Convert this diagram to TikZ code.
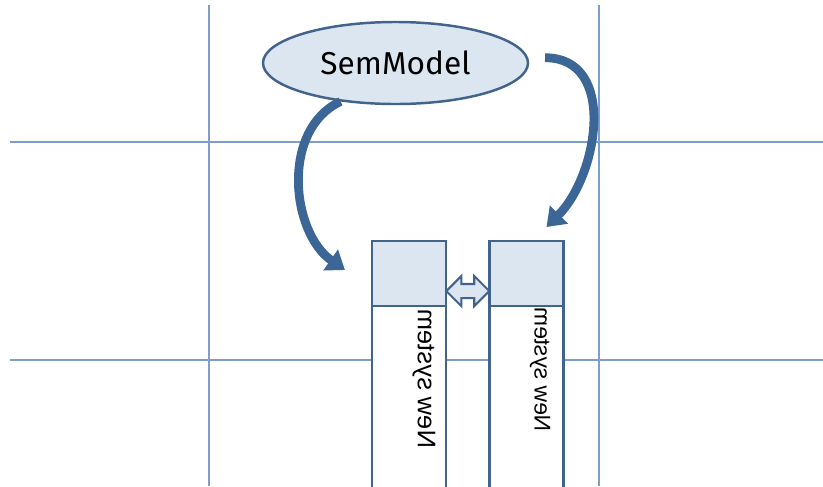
\documentclass[tikz,border=0pt]{standalone}
\usepackage{fontspec}
\setmainfont{Liberation Sans}
\newfontfamily\modelfont{Fira Sans}
\usetikzlibrary{positioning,calc,shapes.geometric,shapes.arrows,arrows.meta}
\definecolor{gridblue}{RGB}{125,158,205}
\definecolor{edgeblue}{RGB}{66,100,140}
\definecolor{paleblue}{RGB}{220,230,241}
\definecolor{bendblue}{RGB}{60,102,150}
\tikzset{header/.style = {draw=edgeblue, fill=paleblue, line width=1.5pt, rectangle, minimum height=1.3cm, minimum width=1.48cm, outer sep=0pt},
         column/.style = {draw=edgeblue, fill=white, line width=1.5pt, rectangle, minimum height=3.8cm, minimum width=1.48cm, outer sep=0pt},
         model/.style = {draw=edgeblue, fill=paleblue, line width=1.4pt, ellipse, minimum width=5.3cm, minimum height=1.64cm, inner sep=0pt},
         link/.style = {draw=edgeblue, fill=paleblue, line width=1.2pt, double arrow, inner xsep=0pt, inner ysep=0.12cm, minimum height=0.86cm, double arrow head extend=0.16cm},
         bendarrow/.style = {draw=bendblue, line width=5pt, -{Triangle[width=14pt,length=10pt]}},
         vlabel/.style = {rotate=-90, xscale=-1, inner sep=0pt, anchor=east}}

\begin{document}
\begin{tikzpicture}
    \useasboundingbox (0,0) rectangle (16.46,-9.72);
    % background grid
    \draw[gridblue, line width=0.8pt] (4.18,-0.1) -- (4.18,-9.72);
    \draw[gridblue, line width=0.8pt] (11.98,-0.1) -- (11.98,-9.72);
    \draw[gridblue, line width=0.8pt] (0.2,-2.84) -- (16.46,-2.84);
    \draw[gridblue, line width=0.8pt] (0.2,-7.2) -- (16.46,-7.2);

    \node[model](sem)at(7.91,-1.26){\modelfont\fontsize{18pt}{20pt}\selectfont SemModel};
    \node[header](hdl)at(8.18,-5.47){};
    \node[header](hdr)at(10.53,-5.47){};
    \node[column, below=0pt of hdl](coll){};
    \node[column, below=0pt of hdr](colr){};
    \node[vlabel, font=\fontsize{14.5pt}{16pt}\selectfont](txl)at([xshift=0.3cm,yshift=-0.06cm]coll.north){New system};
    \node[vlabel, font=\fontsize{13pt}{15pt}\selectfont](txr)at([xshift=0.27cm,yshift=-0.02cm]colr.north){New system};
    \node[link](lnk)at([yshift=-0.35cm]$(hdl.east)!0.5!(hdr.west)$){};

    \draw[bendarrow](sem.215) to[out=205, in=145] ([xshift=-0.54cm, yshift=0.07cm]hdl.west);
    \draw[bendarrow]([xshift=9pt, yshift=3pt]sem.east) to[out=0, in=45, looseness=1.1] ([xshift=0.4cm, yshift=0.28cm]hdr.north);
\end{tikzpicture}
\end{document}
